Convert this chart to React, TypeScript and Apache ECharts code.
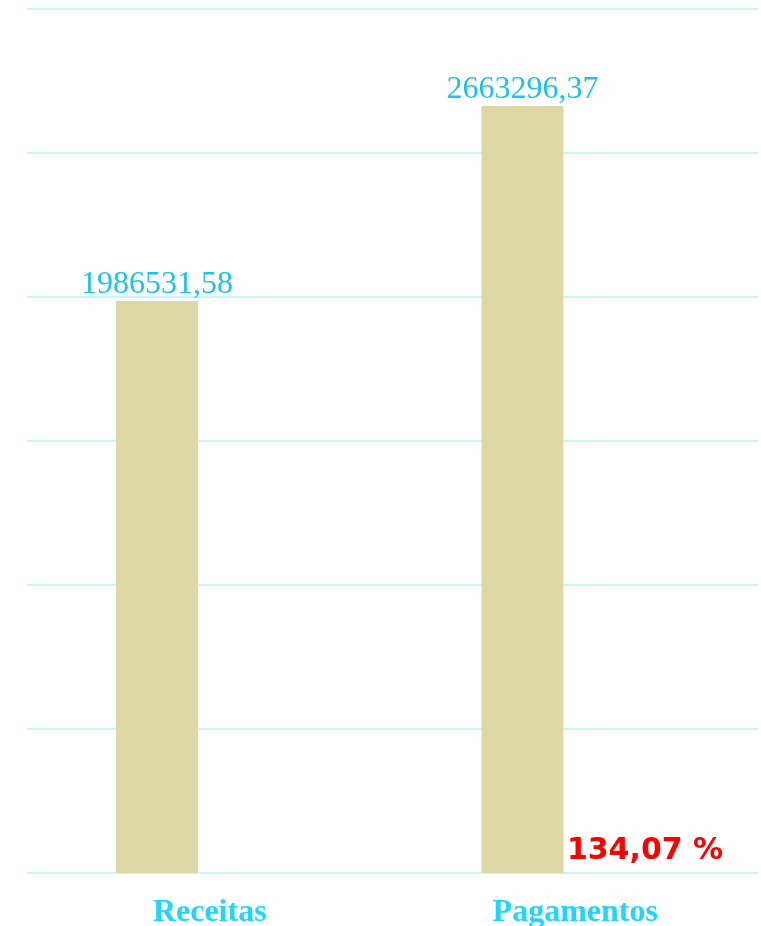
import React, { useEffect, useRef } from "react";
import * as echarts from "echarts";

const categories = ["Receitas", "Pagamentos"];
const values = [1986531.58, 2663296.37];
const placeholder = [null, 0];

const fmt = (v: number) => v.toFixed(2).replace(".", ",");
const ratioText = fmt((values[1] / values[0]) * 100) + " %";

export default function App() {
  const ref = useRef<HTMLDivElement>(null);
  useEffect(() => {
    const chart = echarts.init(ref.current!, null, { renderer: "svg" });
    chart.setOption({
      animation: false,
      grid: { left: 27, right: 3, top: 9, bottom: 51 },
      xAxis: {
        type: "category",
        data: categories,
        axisLine: { show: false },
        axisTick: { show: false },
        axisLabel: {
          color: "#1ed6ff",
          fontFamily: "Liberation Serif",
          fontWeight: "bold",
          fontSize: 32,
          margin: 21,
        },
      },
      yAxis: {
        type: "value",
        min: 0,
        max: 3000000,
        interval: 500000,
        axisLabel: { show: false },
        axisLine: { show: false },
        axisTick: { show: false },
        splitLine: { lineStyle: { color: "#c8f5fc", width: 2 } },
      },
      series: [
        {
          type: "bar",
          data: values,
          barWidth: 82,
          barGap: "28.7%",
          itemStyle: { color: "#ddd8a5" },
          label: {
            show: true,
            position: "top",
            distance: 3,
            color: "#1ec3e3",
            fontFamily: "Liberation Serif",
            fontSize: 32,
            formatter: (p: any) => fmt(p.value),
          },
        },
        {
          type: "bar",
          data: placeholder,
          barWidth: 82,
          itemStyle: { color: "transparent" },
          label: {
            show: true,
            position: "top",
            distance: 10,
            offset: [17, 0],
            color: "#ff0000",
            fontFamily: "DejaVu Sans",
            fontWeight: "bold",
            fontSize: 30,
            formatter: () => ratioText,
          },
        },
      ],
    });
    return () => chart.dispose();
  }, []);
  return (
    <div
      ref={ref}
      style={{ position: "fixed", left: 0, top: 0, width: 761, height: 926 }}
    />
  );
}
